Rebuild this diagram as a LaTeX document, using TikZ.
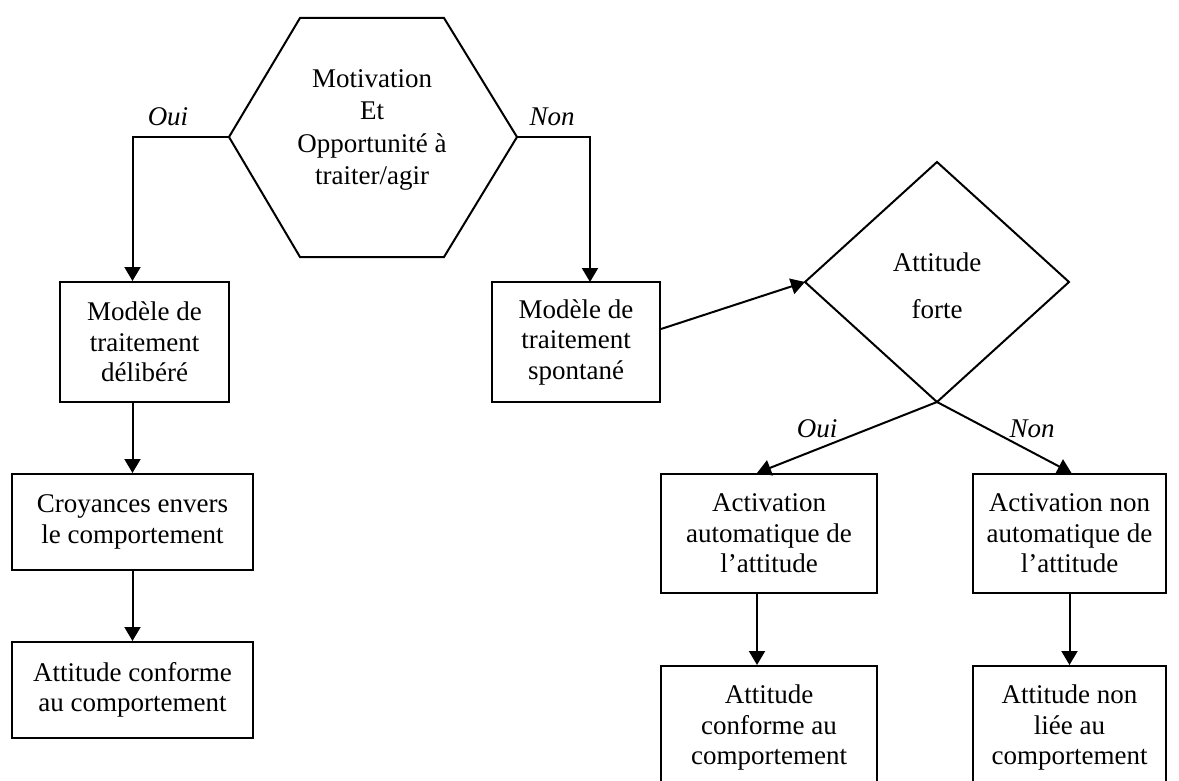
\documentclass[tikz,border=0pt]{standalone}
\usepackage{fontspec}
\setmainfont{Liberation Serif}
\usetikzlibrary{arrows.meta}
\begin{document}
\begin{tikzpicture}[x=1pt,y=-1pt,
  txt/.style={font=\fontsize{27}{30.5}\selectfont, align=center, inner sep=0pt},
  box/.style={txt, draw, line width=2pt, rectangle},
  lbl/.style={font=\fontsize{27}{31}\selectfont\itshape, inner sep=0pt},
  arr/.style={line width=2pt, -{Triangle[length=14pt,width=16pt]}},
  shp/.style={line width=2pt, line join=miter}]
\useasboundingbox (0,0) rectangle (1179,781);
\fill[white] (0,0) rectangle (1179,781);

% hexagon
\coordinate (hexL) at (229,137);
\coordinate (hexR) at (517,137);
\draw[shp] (300,18) -- (444,18) -- (hexR) -- (444,257) -- (300,257) -- (hexL) -- cycle;
\node[txt, font=\fontsize{27}{32.5}\selectfont] (hex) at (372,130) {Motivation\\Et\\Opportunité à\\traiter/agir};

% diamond
\coordinate (dT) at (937,162);
\coordinate (dR) at (1069,282);
\coordinate (dB) at (937,402);
\coordinate (dL) at (805,282);
\draw[shp] (dT) -- (dR) -- (dB) -- (dL) -- cycle;
\node[txt] (dia) at (937,286) {Attitude\\[16pt]forte};

% boxes
\node[box, minimum width=169pt, minimum height=120pt] (delib) at (144.5,342) {Modèle de\\traitement\\délibéré};
\node[box, minimum width=241pt, minimum height=96pt] (croy) at (132.5,522) {Croyances envers\\le comportement};
\node[box, minimum width=241pt, minimum height=96pt] (attL) at (132.5,690) {Attitude conforme\\au comportement};
\node[box, minimum width=168pt, minimum height=120pt] (spont) at (576,342) {Modèle de\\traitement\\spontané};
\node[box, minimum width=216pt, minimum height=119pt] (actA) at (769,533.5) {Activation\\automatique de\\l’attitude};
\node[box, minimum width=193pt, minimum height=119pt] (actN) at (1069.5,533.5) {Activation non\\automatique de\\l’attitude};
\node[box, minimum width=216pt, minimum height=124pt] (attC) at (769,728) {Attitude\\conforme au\\comportement};
\node[box, minimum width=193pt, minimum height=124pt] (attN) at (1069.5,728) {Attitude non\\liée au\\comportement};

% connectors
\coordinate (nonEnd) at (590,282);
\draw[arr] (hexL) -| (croy.north |- delib.north);
\draw[arr] (hexR) -| (nonEnd);
\draw[arr] (delib.south -| croy.north) -- (croy.north);
\draw[arr] (croy.south) -- (attL.north);
\draw[arr] ([yshift=13pt]spont.east) -- (dL);
\draw[arr] (dB) -- ([xshift=-12pt]actA.north);
\draw[arr] (dB) -- ([xshift=2pt]actN.north);
\draw[arr] ([xshift=-12pt]actA.south) -- ([xshift=-12pt]attC.north);
\draw[arr] (actN.south) -- (attN.north);

% labels
\node[lbl] (ouiA) at (168,117) {Oui};
\node[lbl] (nonA) at (552,117) {Non};
\node[lbl] (ouiB) at (817,429) {Oui};
\node[lbl] (nonB) at (1032,429) {Non};
\end{tikzpicture}
\end{document}
